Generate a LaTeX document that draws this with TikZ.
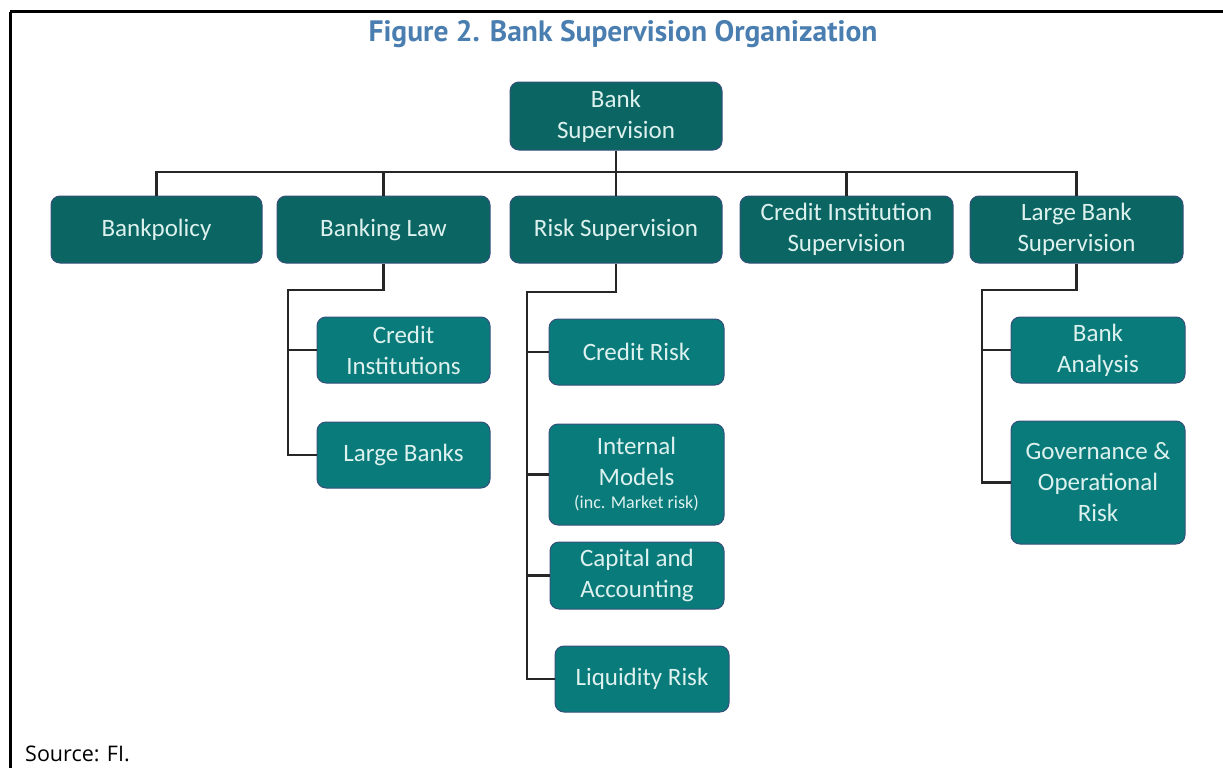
\documentclass[tikz,border=0pt]{standalone}
\usepackage{fontspec}
\setmainfont{Carlito}
\newfontfamily\titlefont{PT Sans}
\newfontfamily\srcfont{Open Sans}
\definecolor{darkteal}{HTML}{0B6663}
\definecolor{lightteal}{HTML}{0A7B7B}
\definecolor{boxline}{HTML}{34507A}
\definecolor{boxtext}{HTML}{DDF1EE}
\definecolor{titleblue}{HTML}{4A7EB0}
\tikzset{
  orgbox/.style={draw=boxline, line width=1pt, rounded corners=9pt, text=boxtext,
    align=center, inner sep=2pt, font=\fontsize{25}{31}\selectfont},
  lvlone/.style={orgbox, fill=darkteal},
  lvltwo/.style={orgbox, fill=lightteal},
  link/.style={draw=black!85, line width=2.8pt},
  frameline/.style={draw=black, line width=3pt},
}
\begin{document}
\begin{tikzpicture}[x=1pt,y=-1pt]
\useasboundingbox (0,0) rectangle (1223,768);
\draw[frameline] (10,12) -- (1223,12);
\draw[frameline] (10,12) -- (10,768);

\node[anchor=base, text=titleblue, font=\titlefont\bfseries\fontsize{29.5}{34}\selectfont] (title) at (623,42)
  {Figure 2. Bank Supervision Organization};
\node[anchor=base west, font=\srcfont\fontsize{21.5}{26}\selectfont, inner sep=0pt] (src) at (25,761)
  {Source: FI.};

\node[lvlone, minimum width=212pt, minimum height=68pt] (top) at (616,116) {Bank\\Supervision};

\node[lvlone, minimum width=211pt, minimum height=67pt] (bp) at (156.5,229.5) {Bankpolicy};
\node[lvlone, minimum width=213pt, minimum height=67pt] (bl) at (383.5,229.5) {Banking Law};
\node[lvlone, minimum width=212pt, minimum height=67pt] (rs) at (616,229.5) {Risk Supervision};
\node[lvlone, minimum width=213pt, minimum height=67pt] (cis) at (846.5,229.5) {Credit Institution\\Supervision};
\node[lvlone, minimum width=213pt, minimum height=67pt] (lbs) at (1076.5,229.5) {Large Bank\\Supervision};

\node[lvltwo, minimum width=173pt, minimum height=66pt] (ci) at (403.5,350) {Credit\\Institutions};
\node[lvltwo, minimum width=173pt, minimum height=66pt] (lb) at (403.5,455) {Large Banks};

\node[lvltwo, minimum width=175pt, minimum height=66pt] (cr) at (636.5,352) {Credit Risk};
\node[lvltwo, minimum width=175pt, minimum height=101pt] (im) at (636.5,474.5)
  {Internal\\Models\\[-8pt]{\fontsize{18}{20}\selectfont (inc. Market risk)}};
\node[lvltwo, minimum width=174pt, minimum height=67pt] (ca) at (637,575.5) {Capital and\\Accounting};
\node[lvltwo, minimum width=174pt, minimum height=66pt] (lr) at (642,679) {Liquidity Risk};

\node[lvltwo, minimum width=174pt, minimum height=66pt] (ba) at (1098,350) {Bank\\Analysis};
\node[lvltwo, minimum width=174pt, minimum height=123pt] (gov) at (1098,482.5)
  {Governance \&\\Operational\\Risk};

% top level connectors
\coordinate (bus) at (616,172);
\draw[link] (top.south) -- (bus);
\foreach \c in {bp,bl,rs,cis,lbs} \draw[link] (bus) -| (\c.north);

% Banking Law
\coordinate (blj) at (288,290);
\draw[link] (bl.south) |- (blj) |- (lb.west);
\draw[link] (blj |- ci.west) -- (ci.west);

% Risk Supervision
\coordinate (rj) at (527,292);
\draw[link] (rs.south) |- (rj) |- (lr.west);
\foreach \c in {cr,im,ca} \draw[link] (rj |- \c.west) -- (\c.west);

% Large Bank Supervision
\coordinate (lj) at (982,290);
\draw[link] (lbs.south) |- (lj) |- (gov.west);
\draw[link] (lj |- ba.west) -- (ba.west);
\end{tikzpicture}
\end{document}
